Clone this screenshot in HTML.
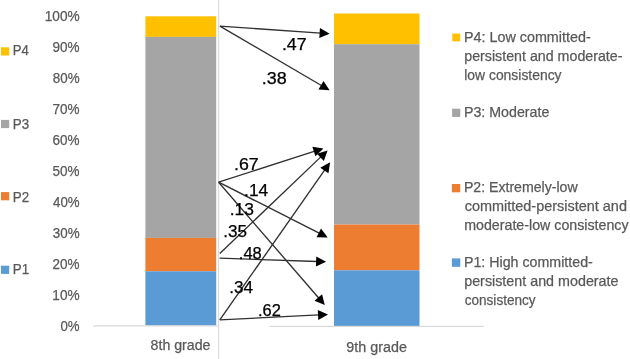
<!DOCTYPE html><html><head><meta charset="utf-8"><style>html,body{margin:0;padding:0;background:#fff;overflow:hidden;}svg{display:block;will-change:transform;}text{font-family:"Liberation Sans", sans-serif;}</style></head><body>
<svg width="630" height="359" viewBox="0 0 630 359">
<rect x="0" y="0" width="630" height="359" fill="#fff"/>
<rect x="145.4" y="16.3" width="70.8" height="20.60" fill="#FFC000"/>
<rect x="145.4" y="36.9" width="70.8" height="201.00" fill="#A5A5A5"/>
<rect x="145.4" y="237.9" width="70.8" height="33.40" fill="#ED7D31"/>
<rect x="145.4" y="271.3" width="70.8" height="54.20" fill="#5B9BD5"/>
<rect x="334" y="13.5" width="85.5" height="30.70" fill="#FFC000"/>
<rect x="334" y="44.2" width="85.5" height="180.40" fill="#A5A5A5"/>
<rect x="334" y="224.6" width="85.5" height="45.70" fill="#ED7D31"/>
<rect x="334" y="270.3" width="85.5" height="55.90" fill="#5B9BD5"/>
<rect x="93" y="325.3" width="125" height="1.2" fill="#D9D9D9"/>
<rect x="269.5" y="325.8" width="214.5" height="1.2" fill="#D9D9D9"/>
<rect x="217.9" y="0" width="1.3" height="359" fill="#DCDCDC"/>
<rect x="1" y="47.30" width="8.2" height="8.2" fill="#FFC000"/>
<rect x="1" y="119.90" width="8.2" height="8.2" fill="#A5A5A5"/>
<rect x="1" y="192.10" width="8.2" height="8.2" fill="#ED7D31"/>
<rect x="1" y="265.70" width="8.2" height="8.2" fill="#5B9BD5"/>
<rect x="452.3" y="33.5" width="7.9" height="7.9" fill="#FFC000"/>
<rect x="452.1" y="108.7" width="8.2" height="8.2" fill="#A5A5A5"/>
<rect x="451.9" y="184.0" width="8.3" height="8.3" fill="#ED7D31"/>
<rect x="451.9" y="258.4" width="8.4" height="8.4" fill="#5B9BD5"/>
<line x1="219.90" y1="26.10" x2="320.62" y2="33.17" stroke="#303030" stroke-width="1.35"/>
<polygon points="329.60,33.80 319.27,38.09 319.97,28.11" fill="#000"/>
<line x1="219.90" y1="26.10" x2="321.83" y2="85.75" stroke="#303030" stroke-width="1.35"/>
<polygon points="329.60,90.30 318.44,89.56 323.49,80.93" fill="#000"/>
<line x1="218.60" y1="182.20" x2="314.83" y2="151.16" stroke="#303030" stroke-width="1.35"/>
<polygon points="323.40,148.40 315.42,156.23 312.35,146.71" fill="#000"/>
<line x1="218.60" y1="182.20" x2="319.67" y2="233.34" stroke="#303030" stroke-width="1.35"/>
<polygon points="327.70,237.40 316.52,237.35 321.03,228.42" fill="#000"/>
<line x1="218.60" y1="182.20" x2="318.92" y2="298.29" stroke="#303030" stroke-width="1.35"/>
<polygon points="324.80,305.10 314.48,300.80 322.04,294.26" fill="#000"/>
<line x1="219.80" y1="253.40" x2="321.09" y2="156.62" stroke="#303030" stroke-width="1.35"/>
<polygon points="327.60,150.40 323.82,160.92 316.92,153.69" fill="#000"/>
<line x1="219.60" y1="258.20" x2="317.11" y2="261.50" stroke="#303030" stroke-width="1.35"/>
<polygon points="326.10,261.80 315.94,266.46 316.27,256.47" fill="#000"/>
<line x1="219.80" y1="319.90" x2="324.94" y2="169.67" stroke="#303030" stroke-width="1.35"/>
<polygon points="330.10,162.30 328.46,173.36 320.27,167.63" fill="#000"/>
<line x1="219.80" y1="319.90" x2="319.01" y2="314.86" stroke="#303030" stroke-width="1.35"/>
<polygon points="328.00,314.40 318.27,319.90 317.76,309.91" fill="#000"/>
<text x="44.72" y="20.80" font-size="14" fill="#595959" textLength="34.92" lengthAdjust="spacingAndGlyphs" stroke="#595959" stroke-width="0.25">100%</text>
<text x="52.58" y="51.82" font-size="14" fill="#595959" textLength="27.04" lengthAdjust="spacingAndGlyphs" stroke="#595959" stroke-width="0.25">90%</text>
<text x="52.82" y="82.84" font-size="14" fill="#595959" textLength="26.79" lengthAdjust="spacingAndGlyphs" stroke="#595959" stroke-width="0.25">80%</text>
<text x="52.58" y="113.86" font-size="14" fill="#595959" textLength="27.04" lengthAdjust="spacingAndGlyphs" stroke="#595959" stroke-width="0.25">70%</text>
<text x="52.58" y="144.88" font-size="14" fill="#595959" textLength="27.04" lengthAdjust="spacingAndGlyphs" stroke="#595959" stroke-width="0.25">60%</text>
<text x="52.58" y="175.90" font-size="14" fill="#595959" textLength="27.04" lengthAdjust="spacingAndGlyphs" stroke="#595959" stroke-width="0.25">50%</text>
<text x="53.06" y="206.92" font-size="14" fill="#595959" textLength="26.54" lengthAdjust="spacingAndGlyphs" stroke="#595959" stroke-width="0.25">40%</text>
<text x="52.82" y="237.94" font-size="14" fill="#595959" textLength="26.79" lengthAdjust="spacingAndGlyphs" stroke="#595959" stroke-width="0.25">30%</text>
<text x="52.58" y="268.96" font-size="14" fill="#595959" textLength="27.04" lengthAdjust="spacingAndGlyphs" stroke="#595959" stroke-width="0.25">20%</text>
<text x="52.33" y="299.98" font-size="14" fill="#595959" textLength="27.29" lengthAdjust="spacingAndGlyphs" stroke="#595959" stroke-width="0.25">10%</text>
<text x="60.43" y="331.00" font-size="14" fill="#595959" textLength="19.13" lengthAdjust="spacingAndGlyphs" stroke="#595959" stroke-width="0.25">0%</text>
<text x="12.77" y="55.20" font-size="14.5" fill="#595959" textLength="16.09" lengthAdjust="spacingAndGlyphs" stroke="#595959" stroke-width="0.25">P4</text>
<text x="12.75" y="128.60" font-size="14.5" fill="#595959" textLength="16.34" lengthAdjust="spacingAndGlyphs" stroke="#595959" stroke-width="0.25">P3</text>
<text x="12.75" y="201.50" font-size="14.5" fill="#595959" textLength="16.34" lengthAdjust="spacingAndGlyphs" stroke="#595959" stroke-width="0.25">P2</text>
<text x="12.75" y="274.30" font-size="14.5" fill="#595959" textLength="16.34" lengthAdjust="spacingAndGlyphs" stroke="#595959" stroke-width="0.25">P1</text>
<text x="281.94" y="49.90" font-size="16" fill="#000" textLength="24.70" lengthAdjust="spacingAndGlyphs" stroke="#000" stroke-width="0.25">.47</text>
<text x="261.82" y="84.00" font-size="16" fill="#000" textLength="24.92" lengthAdjust="spacingAndGlyphs" stroke="#000" stroke-width="0.25">.38</text>
<text x="234.03" y="169.80" font-size="16" fill="#000" textLength="24.70" lengthAdjust="spacingAndGlyphs" stroke="#000" stroke-width="0.25">.67</text>
<text x="244.08" y="195.50" font-size="16" fill="#000" textLength="24.06" lengthAdjust="spacingAndGlyphs" stroke="#000" stroke-width="0.25">.14</text>
<text x="229.67" y="215.10" font-size="16" fill="#000" textLength="24.25" lengthAdjust="spacingAndGlyphs" stroke="#000" stroke-width="0.25">.13</text>
<text x="223.30" y="237.00" font-size="16" fill="#000" textLength="23.70" lengthAdjust="spacingAndGlyphs" stroke="#000" stroke-width="0.25">.35</text>
<text x="238.86" y="258.60" font-size="16" fill="#000" textLength="22.92" lengthAdjust="spacingAndGlyphs" stroke="#000" stroke-width="0.25">.48</text>
<text x="229.29" y="292.90" font-size="16" fill="#000" textLength="23.84" lengthAdjust="spacingAndGlyphs" stroke="#000" stroke-width="0.25">.34</text>
<text x="258.06" y="316.30" font-size="16" fill="#000" textLength="22.81" lengthAdjust="spacingAndGlyphs" stroke="#000" stroke-width="0.25">.62</text>
<text x="150.59" y="350.20" font-size="14" fill="#595959" textLength="59.89" lengthAdjust="spacingAndGlyphs" stroke="#595959" stroke-width="0.25">8th grade</text>
<text x="346.33" y="351.80" font-size="14" fill="#595959" textLength="60.56" lengthAdjust="spacingAndGlyphs" stroke="#595959" stroke-width="0.25">9th grade</text>
<text x="463.96" y="42.10" font-size="14.5" fill="#595959" textLength="126.77" lengthAdjust="spacingAndGlyphs" stroke="#595959" stroke-width="0.25">P4: Low committed-</text>
<text x="464.22" y="61.10" font-size="14.5" fill="#595959" textLength="158.27" lengthAdjust="spacingAndGlyphs" stroke="#595959" stroke-width="0.25">persistent and moderate-</text>
<text x="464.24" y="79.80" font-size="14.5" fill="#595959" textLength="97.30" lengthAdjust="spacingAndGlyphs" stroke="#595959" stroke-width="0.25">low consistency</text>
<text x="463.97" y="117.00" font-size="14.5" fill="#595959" textLength="85.38" lengthAdjust="spacingAndGlyphs" stroke="#595959" stroke-width="0.25">P3: Moderate</text>
<text x="463.98" y="191.90" font-size="14.5" fill="#595959" textLength="113.61" lengthAdjust="spacingAndGlyphs" stroke="#595959" stroke-width="0.25">P2: Extremely-low</text>
<text x="464.70" y="211.20" font-size="14.5" fill="#595959" textLength="162.24" lengthAdjust="spacingAndGlyphs" stroke="#595959" stroke-width="0.25">committed-persistent and</text>
<text x="464.22" y="229.60" font-size="14.5" fill="#595959" textLength="164.32" lengthAdjust="spacingAndGlyphs" stroke="#595959" stroke-width="0.25">moderate-low consistency</text>
<text x="463.97" y="267.40" font-size="14.5" fill="#595959" textLength="128.82" lengthAdjust="spacingAndGlyphs" stroke="#595959" stroke-width="0.25">P1: High committed-</text>
<text x="464.21" y="286.00" font-size="14.5" fill="#595959" textLength="154.30" lengthAdjust="spacingAndGlyphs" stroke="#595959" stroke-width="0.25">persistent and moderate</text>
<text x="464.73" y="304.90" font-size="14.5" fill="#595959" textLength="70.88" lengthAdjust="spacingAndGlyphs" stroke="#595959" stroke-width="0.25">consistency</text>
</svg></body></html>
